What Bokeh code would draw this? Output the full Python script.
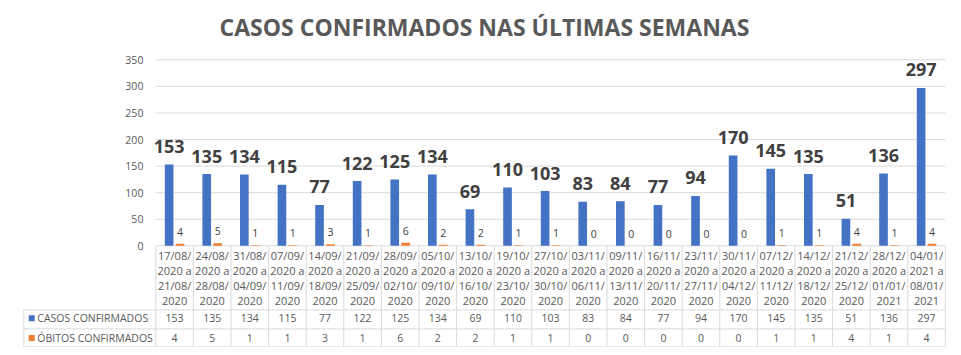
from bokeh.plotting import figure
from bokeh.models import ColumnDataSource, Range1d
from bokeh.transform import dodge
from bokeh.core.properties import value
from bokeh.embed import file_html
from bokeh.resources import INLINE

# ---------------- data ----------------
title_text = "CASOS CONFIRMADOS NAS ÚLTIMAS SEMANAS"
periods = [
    "17/08/2020 a 21/08/2020", "24/08/2020 a 28/08/2020", "31/08/2020 a 04/09/2020",
    "07/09/2020 a 11/09/2020", "14/09/2020 a 18/09/2020", "21/09/2020 a 25/09/2020",
    "28/09/2020 a 02/10/2020", "05/10/2020 a 09/10/2020", "13/10/2020 a 16/10/2020",
    "19/10/2020 a 23/10/2020", "27/10/2020 a 30/10/2020", "03/11/2020 a 06/11/2020",
    "09/11/2020 a 13/11/2020", "16/11/2020 a 20/11/2020", "23/11/2020 a 27/11/2020",
    "30/11/2020 a 04/12/2020", "07/12/2020 a 11/12/2020", "14/12/2020 a 18/12/2020",
    "21/12/2020 a 25/12/2020", "28/12/2020 a 01/01/2021", "04/01/2021 a 08/01/2021",
]
casos = [153, 135, 134, 115, 77, 122, 125, 134, 69, 110, 103, 83, 84, 77, 94, 170, 145, 135, 51, 136, 297]
obitos = [4, 5, 1, 1, 3, 1, 6, 2, 2, 1, 1, 0, 0, 0, 0, 0, 1, 1, 4, 1, 4]
series_names = ["CASOS CONFIRMADOS", "ÓBITOS CONFIRMADOS"]
y_ticks = [0, 50, 100, 150, 200, 250, 300, 350]

# ---------------- style / layout ----------------
BLUE = "#4472C4"
ORANGE = "#ED7D31"
TXT = "#595959"
LBL = "#404040"
LINE = "#D9D9D9"
FONT = value("Open Sans")

n = len(periods)
xc = [i + 0.5 for i in range(n)]

X_LEFT = -3.545
X_RIGHT = n + 0.03
Y_BOTTOM = -191.2
Y_TOP = 365.6

TABLE_LEFT = -3.51
ROW_LINES = [-120.5, -156.2, -190.0]
ROW_CENTERS = [-136.3, -173.1]
CAT_LINE0 = -19.0
CAT_STEP = -28.1
OFF = 0.145
BAR_W = 0.23

p = figure(width=953, height=347, output_backend="svg", toolbar_location=None,
           x_range=Range1d(X_LEFT, X_RIGHT), y_range=Range1d(Y_BOTTOM, Y_TOP),
           x_axis_location=None, y_axis_location=None,
           min_border_left=22, min_border_right=7, min_border_top=50, min_border_bottom=0)
p.grid.visible = False
p.outline_line_color = None
p.background_fill_color = "white"
p.border_fill_color = "white"

p.title.text = title_text
p.title.align = "center"
p.title.text_font = "Open Sans"
p.title.text_font_size = "23px"
p.title.text_font_style = "bold"
p.title.text_color = TXT
p.title.standoff = 17

# grid lines (value axis)
p.segment(x0=0, x1=n, y0=y_ticks, y1=y_ticks, line_color=LINE, line_width=1)
p.text(x=-0.33, y=y_ticks, text=[str(t) for t in y_ticks], text_align="right",
       text_baseline="middle", text_font=FONT, text_font_size="10.5px", text_color=TXT)

src = ColumnDataSource(dict(
    x=xc, casos=casos, obitos=obitos,
    casos_lbl=[str(v) for v in casos], obitos_lbl=[str(v) for v in obitos],
))

p.vbar(x=dodge("x", -OFF), top="casos", width=BAR_W, bottom=0, source=src,
       fill_color=BLUE, line_color=None)
p.vbar(x=dodge("x", OFF), top="obitos", width=BAR_W, bottom=0, source=src,
       fill_color=ORANGE, line_color=None)

p.text(x=dodge("x", -OFF), y="casos", text="casos_lbl", source=src, y_offset=-18,
       text_align="center", text_baseline="middle", text_font=FONT,
       text_font_size="18px", text_font_style="bold", text_color=LBL)
p.text(x=dodge("x", OFF), y="obitos", text="obitos_lbl", source=src, y_offset=-12,
       text_align="center", text_baseline="middle", text_font=FONT,
       text_font_size="10.5px", text_color=LBL)

# data table: category header lines
cat_x, cat_y, cat_t = [], [], []
for i, per in enumerate(periods):
    start, end = per.split(" a ")
    lines = [start[:6], start[6:] + " a", end[:6], end[6:]]
    for k, t in enumerate(lines):
        cat_x.append(xc[i])
        cat_y.append(CAT_LINE0 + CAT_STEP * k)
        cat_t.append(t)
p.text(x=cat_x, y=cat_y, text=cat_t, text_align="center", text_baseline="middle",
       text_font=FONT, text_font_size="11px", text_color=TXT)

# table borders
bounds = list(range(n + 1))
p.segment(x0=bounds, x1=bounds, y0=0, y1=ROW_LINES[-1], line_color=LINE, line_width=1)
p.segment(x0=TABLE_LEFT, x1=n, y0=ROW_LINES, y1=ROW_LINES, line_color=LINE, line_width=1)
p.segment(x0=TABLE_LEFT, x1=TABLE_LEFT, y0=ROW_LINES[0], y1=ROW_LINES[-1],
          line_color=LINE, line_width=1)

# table values
p.text(x=xc, y=ROW_CENTERS[0], text=[str(v) for v in casos], text_align="center",
       text_baseline="middle", text_font=FONT, text_font_size="10.5px", text_color=TXT)
p.text(x=xc, y=ROW_CENTERS[1], text=[str(v) for v in obitos], text_align="center",
       text_baseline="middle", text_font=FONT, text_font_size="10.5px", text_color=TXT)

# table legend keys
p.scatter(x=-3.30, y=ROW_CENTERS, marker="square", size=6,
          fill_color=[BLUE, ORANGE], line_color=None)
p.text(x=-3.15, y=ROW_CENTERS, text=series_names, text_align="left",
       text_baseline="middle", text_font=FONT, text_font_size="10.5px", text_color=TXT)

open("out.html", "w").write(file_html(p, INLINE))
